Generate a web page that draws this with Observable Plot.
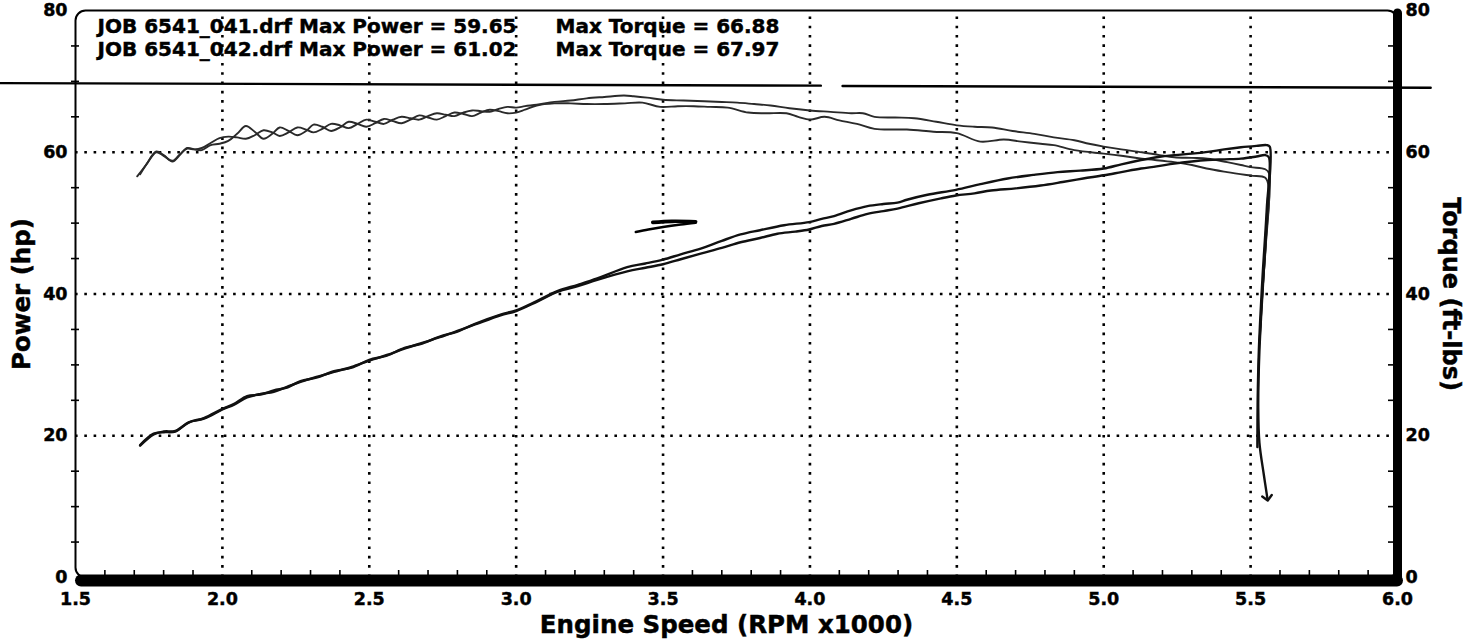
<!DOCTYPE html>
<html><head><meta charset="utf-8">
<script src="https://cdn.jsdelivr.net/npm/d3@7"></script>
<script src="https://cdn.jsdelivr.net/npm/@observablehq/plot@0.6"></script>
<style>
html,body{margin:0;padding:0;background:#fff;overflow:hidden}
#chart svg{display:block}
#chart svg text{font-weight:bold;stroke:#000;stroke-width:0.45px}
#chart g[aria-label*="axis"] text{font-size:17.5px;font-weight:bold;font-family:'DejaVu Sans',Verdana,sans-serif}
</style>
</head><body><div id="chart"></div>
<script>
// ---------- data ----------
const xTickValues = [1.5, 2.0, 2.5, 3.0, 3.5, 4.0, 4.5, 5.0, 5.5, 6.0];
const yTickValues = [0, 20, 40, 60, 80];
const xGridValues = [2.0, 2.5, 3.0, 3.5, 4.0, 4.5, 5.0, 5.5];
const yGridValues = [20, 40, 60];
const xMinorTicks = [1.6,1.7,1.8,1.9,2.1,2.2,2.3,2.4,2.6,2.7,2.8,2.9,3.1,3.2,3.3,3.4,3.6,3.7,3.8,3.9,4.1,4.2,4.3,4.4,4.6,4.7,4.8,4.9,5.1,5.2,5.3,5.4,5.6,5.7,5.8,5.9];
const yMinorTicks = [5,10,15,25,30,35,45,50,55,65,70,75];

const xTitle = "Engine Speed (RPM x1000)";
const yLeftTitle = "Power (hp)";
const yRightTitle = "Torque (ft-lbs)";
const legendPower = ["JOB 6541_041.drf Max Power = 59.65", "JOB 6541_042.drf Max Power = 61.02"];
const legendTorque = ["Max Torque = 66.88", "Max Torque = 67.97"];

// [rpm x1000, value]
const torque041 = [[1.71,56.6],[1.74,58.2],[1.775,60.1],[1.80,59.6],[1.83,58.7],[1.855,59.6],[1.88,60.6],[1.905,60.4],[1.93,60.3],[1.96,61.0],[1.99,61.2],[2.02,61.6],[2.05,62.6],[2.08,63.7],[2.11,62.9],[2.14,61.9],[2.17,62.6],[2.195,63.5],[2.225,63.0],[2.255,62.4],[2.285,63.0],[2.31,63.9],[2.34,63.6],[2.37,63.0],[2.40,63.5],[2.43,64.3],[2.46,64.0],[2.49,63.6],[2.52,64.1],[2.55,64.7],[2.58,64.4],[2.61,64.1],[2.64,64.6],[2.67,65.2],[2.70,64.9],[2.73,64.6],[2.76,65.1],[2.79,65.6],[2.82,65.4],[2.85,65.1],[2.88,65.6],[2.91,66.0],[2.94,65.8],[2.97,65.5],[3.0,65.6],[3.03,66.0],[3.07,66.6],[3.13,66.9],[3.185,66.9],[3.24,66.8],[3.30,66.8],[3.37,66.9],[3.43,67.0],[3.49,66.4],[3.55,66.5],[3.605,66.5],[3.66,66.4],[3.72,66.3],[3.79,65.6],[3.85,65.5],[3.92,65.5],[3.96,65.0],[4.0,64.6],[4.05,65.0],[4.10,64.5],[4.16,64.0],[4.22,63.3],[4.33,63.2],[4.42,62.9],[4.50,62.7],[4.58,61.5],[4.66,61.8],[4.72,61.5],[4.785,61.2],[4.83,61.0],[4.9,60.3],[5.0,59.8],[5.06,59.5],[5.13,59.1],[5.24,58.6],[5.30,58.2],[5.35,57.7],[5.42,57.2],[5.5,56.7],[5.55,56.4],[5.562,55.0],[5.552,47],[5.54,40],[5.532,34]];
const torque042 = [[1.72,56.9],[1.745,58.5],[1.775,60.0],[1.80,59.5],[1.83,58.8],[1.855,59.7],[1.88,60.5],[1.905,60.4],[1.93,60.6],[1.96,61.3],[1.99,62.0],[2.02,62.2],[2.05,62.1],[2.08,61.9],[2.11,62.4],[2.14,63.1],[2.17,62.8],[2.195,62.3],[2.225,62.8],[2.255,63.5],[2.285,63.2],[2.31,62.8],[2.34,63.3],[2.37,64.0],[2.40,63.8],[2.43,63.4],[2.46,64.0],[2.49,64.6],[2.52,64.3],[2.55,64.0],[2.58,64.6],[2.61,65.0],[2.64,64.8],[2.67,64.6],[2.70,65.1],[2.73,65.5],[2.76,65.3],[2.79,65.1],[2.82,65.6],[2.85,65.9],[2.88,65.8],[2.91,65.7],[2.94,66.1],[2.97,66.4],[3.0,66.3],[3.03,66.5],[3.07,66.7],[3.13,67.1],[3.185,67.3],[3.24,67.6],[3.30,67.8],[3.367,68.0],[3.40,67.9],[3.446,67.7],[3.50,67.4],[3.57,67.3],[3.64,67.2],[3.70,67.1],[3.753,67.0],[3.81,66.8],[3.866,66.6],[3.93,66.2],[4.0,65.9],[4.07,65.7],[4.14,65.5],[4.18,65.5],[4.22,65.0],[4.29,64.9],[4.355,64.8],[4.43,64.3],[4.50,63.8],[4.56,63.6],[4.62,63.5],[4.69,63.0],[4.764,62.6],[4.83,62.1],[4.9,61.7],[4.95,61.2],[5.0,60.8],[5.06,60.4],[5.13,60.0],[5.19,59.6],[5.24,59.3],[5.30,59.2],[5.354,59.1],[5.42,58.6],[5.467,58.2],[5.5,57.9],[5.55,57.6],[5.563,57.0],[5.553,48],[5.54,40],[5.53,33]];
const power041 = [[1.72,18.7],[1.766,20.3],[1.80,20.5],[1.84,20.6],[1.886,21.9],[1.937,22.4],[2.0,23.7],[2.04,24.4],[2.084,25.4],[2.13,25.9],[2.175,26.2],[2.22,26.9],[2.266,27.6],[2.32,28.3],[2.38,29.0],[2.44,29.7],[2.50,30.6],[2.56,31.4],[2.62,32.3],[2.68,33.1],[2.74,33.9],[2.80,34.8],[2.86,35.7],[2.947,37.0],[3.0,37.6],[3.07,38.9],[3.14,40.3],[3.21,41.1],[3.276,42.0],[3.378,43.2],[3.44,43.7],[3.5,44.2],[3.56,44.9],[3.628,45.7],[3.70,46.5],[3.764,47.3],[3.83,47.9],[3.889,48.5],[3.95,48.8],[3.997,49.1],[4.04,49.6],[4.082,49.9],[4.14,50.6],[4.196,51.3],[4.25,51.7],[4.298,52.05],[4.37,52.8],[4.446,53.5],[4.497,53.9],[4.56,54.2],[4.616,54.6],[4.70,54.9],[4.785,55.3],[4.86,55.8],[4.93,56.3],[5.0,56.75],[5.06,57.2],[5.127,57.7],[5.18,58.0],[5.24,58.4],[5.30,58.7],[5.354,58.9],[5.41,59.0],[5.467,59.1],[5.52,59.4],[5.55,59.6],[5.562,59.3],[5.555,52],[5.54,42],[5.528,32],[5.524,25],[5.523,18.4]];
const power042 = [[1.72,18.6],[1.766,20.2],[1.80,20.6],[1.84,20.7],[1.886,21.9],[1.937,22.5],[2.0,23.8],[2.04,24.5],[2.084,25.6],[2.13,25.8],[2.175,26.4],[2.22,26.8],[2.266,27.7],[2.32,28.2],[2.38,29.1],[2.44,29.6],[2.50,30.7],[2.56,31.3],[2.62,32.4],[2.68,33.0],[2.74,34.0],[2.80,34.7],[2.86,35.8],[2.947,37.1],[3.0,37.7],[3.07,39.0],[3.14,40.4],[3.21,41.3],[3.276,42.2],[3.378,43.8],[3.44,44.3],[3.5,44.85],[3.56,45.6],[3.628,46.4],[3.70,47.5],[3.764,48.4],[3.83,49.0],[3.912,49.7],[3.997,50.15],[4.04,50.6],[4.082,51.0],[4.14,51.8],[4.196,52.4],[4.25,52.7],[4.298,52.9],[4.33,53.3],[4.40,54.0],[4.497,54.7],[4.58,55.5],[4.673,56.3],[4.76,56.8],[4.843,57.2],[4.92,57.4],[5.0,57.7],[5.06,58.3],[5.127,58.9],[5.18,59.3],[5.24,59.6],[5.30,59.8],[5.354,60.05],[5.41,60.4],[5.467,60.7],[5.52,60.9],[5.555,61.0],[5.565,60.8],[5.557,52],[5.543,42],[5.53,32],[5.526,24],[5.53,19],[5.545,14.5],[5.557,11.2]];

// scanner artefacts visible on the reference
const scanLineLeft = [[1.245,69.75],[4.037,69.4]];
const scanLineRight = [[4.111,69.35],[6.113,69.1]];
const scribbleLow = [[3.407,48.75],[3.45,49.1],[3.5,49.45],[3.56,49.8],[3.611,50.05]];
const scribbleHigh = [[3.465,50.1],[3.53,50.25],[3.611,50.2]];

// ---------- layout ----------
const W = 1473, H = 639;
const mL = 75, mR = 76, mT = 10, mB = 62;
const pxX = (W - mL - mR) / 4.5;   // px per 1000 rpm
const pxY = (H - mT - mB) / 80;    // px per unit
const FONT = "'DejaVu Sans', Verdana, sans-serif";

const toRows = (arr, series) => arr.map(([x, y]) => ({x, y, series}));
const torqueRows = [...toRows(torque041, "t041"), ...toRows(torque042, "t042")];
const dotted = {stroke: "#000", strokeWidth: 2.6, strokeDasharray: "2.6,6.7"};
const bold = {fontWeight: "bold", fill: "#000"};

const chart = Plot.plot({
  width: W, height: H,
  marginLeft: mL, marginRight: mR, marginTop: mT, marginBottom: mB,
  style: {fontFamily: FONT, fontSize: "17.5px", fontWeight: "bold", color: "#000", background: "#fff"},
  x: {domain: [1.5, 6], ticks: xTickValues, tickFormat: d => d.toFixed(1), tickSize: 0, tickPadding: 15, label: null},
  y: {domain: [0, 80], ticks: yTickValues, tickSize: 0, tickPadding: 8, axis: "both", label: null},
  marks: [
    Plot.ruleX(xGridValues, {y1: 0, y2: 80, ...dotted}),
    Plot.ruleY(yGridValues, {x1: 1.5, x2: 6, ...dotted}),
    Plot.frame({stroke: "#000", strokeWidth: 2, rx: 10}),
    Plot.ruleY(yMinorTicks, {x1: 1.5 - 4 / pxX, x2: 1.5 + 4 / pxX, stroke: "#000", strokeWidth: 1.6}),
    Plot.ruleY(yMinorTicks, {x1: 6 - 9 / pxX, x2: 6, stroke: "#000", strokeWidth: 1.6}),
    Plot.ruleX(xMinorTicks, {y1: 0, y2: 7 / pxY, stroke: "#000", strokeWidth: 1.6}),
    Plot.ruleY([0], {x1: 1.5 + 6 / pxX, x2: 6, stroke: "#000", strokeWidth: 12, dy: 3, strokeLinecap: "round"}),
    Plot.ruleX([6], {y1: 0, y2: 80, stroke: "#000", strokeWidth: 9, dy: 3, strokeLinecap: "round"}),
    // scanner artefacts
    Plot.line(scanLineLeft, {x: d => d[0], y: d => d[1], stroke: "#000", strokeWidth: 2.4}),
    Plot.line(scanLineRight, {x: d => d[0], y: d => d[1], stroke: "#000", strokeWidth: 2.4}),
    Plot.line(scribbleLow, {x: d => d[0], y: d => d[1], stroke: "#000", strokeWidth: 2.4, curve: "catmull-rom"}),
    Plot.line(scribbleHigh, {x: d => d[0], y: d => d[1], stroke: "#000", strokeWidth: 3.6, curve: "catmull-rom"}),
    // torque curves
    Plot.line(torqueRows, {x: "x", y: "y", z: "series", stroke: "#2a2a2a", strokeWidth: 1.9, curve: "catmull-rom"}),
    // power curves
    Plot.line(toRows(power041, "p041"), {x: "x", y: "y", stroke: "#111", strokeWidth: 2.4, curve: "catmull-rom"}),
    Plot.line(toRows(power042, "p042"), {x: "x", y: "y", stroke: "#111", strokeWidth: 2.4, curve: "catmull-rom", markerEnd: "arrow"}),
    // axis titles
    Plot.text([xTitle], {text: d => d, frameAnchor: "bottom", textAnchor: "middle", lineAnchor: "middle", dy: 48, dx: -10, fontSize: 24.5, ...bold}),
    Plot.text([yLeftTitle], {text: d => d, x: 1.5 - 53 / pxX, y: 40, textAnchor: "middle", lineAnchor: "middle", rotate: -90, fontSize: 24.5, ...bold}),
    Plot.text([yRightTitle], {text: d => d, x: 6 + 53 / pxX, y: 40, textAnchor: "middle", lineAnchor: "middle", rotate: 90, fontSize: 24, ...bold}),
    // legend text
    Plot.text([legendPower[0]], {text: d => d, frameAnchor: "top-left", dx: 22, dy: 16.5, textAnchor: "start", lineAnchor: "middle", fontSize: 20, ...bold}),
    Plot.text([legendPower[1]], {text: d => d, frameAnchor: "top-left", dx: 22, dy: 39.5, textAnchor: "start", lineAnchor: "middle", fontSize: 20, ...bold}),
    Plot.text([legendTorque[0]], {text: d => d, frameAnchor: "top-left", dx: 480, dy: 16.5, textAnchor: "start", lineAnchor: "middle", fontSize: 20, ...bold}),
    Plot.text([legendTorque[1]], {text: d => d, frameAnchor: "top-left", dx: 480, dy: 39.5, textAnchor: "start", lineAnchor: "middle", fontSize: 20, ...bold})
  ]
});
document.getElementById("chart").appendChild(chart);
</script>
</body></html>
